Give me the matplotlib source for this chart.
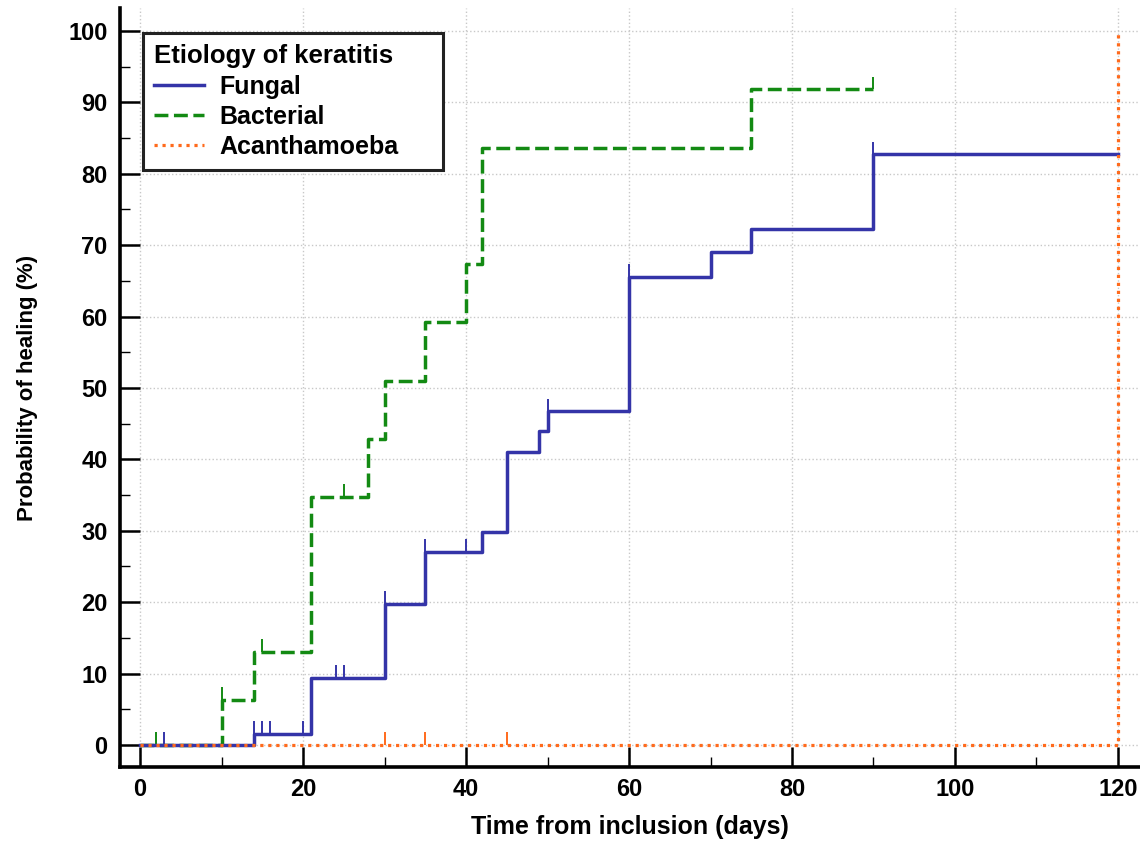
import matplotlib
matplotlib.use("Agg")
import matplotlib.pyplot as plt
import numpy as np

# Kaplan-Meier style healing curves
fungal_t = [0, 14, 21, 30, 35, 42, 45, 49, 50, 60, 70, 75, 90, 120]
fungal_p = [0, 1.6, 9.4, 19.7, 27.0, 29.8, 41.0, 44.0, 46.7, 65.5, 69.0, 72.3, 82.7, 82.7]
fungal_cens = [3, 14, 15, 16, 20, 24, 25, 30, 35, 40, 50, 60, 90]

bact_t = [0, 10, 14, 21, 28, 30, 35, 40, 42, 75, 90]
bact_p = [0, 6.3, 13.0, 34.7, 42.9, 51.0, 59.2, 67.4, 83.6, 91.8, 91.8]
bact_cens = [2, 10, 15, 25, 90]

acanth_t = [0, 120]
acanth_p = [0, 100]
acanth_cens = [30, 35, 45]

x_ticks = [0, 20, 40, 60, 80, 100, 120]
y_ticks = [0, 10, 20, 30, 40, 50, 60, 70, 80, 90, 100]

BLUE = "#3434a8"
GREEN = "#138a13"
ORANGE = "#ff6a1c"
CENS_LEN = 1.8

plt.rcParams["font.family"] = ["Liberation Sans", "DejaVu Sans"]
plt.rcParams["font.weight"] = "bold"


def level_at(t, times, vals):
    idx = np.searchsorted(times, t, side="right") - 1
    return vals[idx]


def main() -> None:
    fig = plt.figure(figsize=(11.4, 8.41), dpi=100)
    ax = fig.add_axes([0.1053, 0.088, 0.8947, 0.9025])

    series = [
        (fungal_t, fungal_p, fungal_cens, BLUE, "-", "Fungal", 3),
        (bact_t, bact_p, bact_cens, GREEN, (0, (4, 1.6)), "Bacterial", 2),
        (acanth_t, acanth_p, acanth_cens, ORANGE, (0, (1, 1.5)), "Acanthamoeba", 4),
    ]
    for t, p, cens, col, ls, lab, z in series:
        lw = 2.5 if lab != "Acanthamoeba" else 2.3
        ax.step(t, p, where="post", color=col, linestyle=ls, lw=lw, label=lab, zorder=z)
        lv = [level_at(c, t, p) for c in cens]
        ax.vlines(cens, lv, np.array(lv) + CENS_LEN, color=col, lw=1.4, zorder=z)

    ax.set_xlim(-2.45, 122.7)
    ax.set_ylim(-3.08, 103.2)
    ax.set_xticks(x_ticks)
    ax.set_xticks(np.arange(0, 121, 10), minor=True)
    ax.set_yticks(y_ticks)
    ax.set_yticks(np.arange(0, 101, 5), minor=True)
    ax.tick_params(which="major", direction="in", length=14.5, width=1.8, labelsize=17, pad=8)
    ax.tick_params(which="minor", direction="in", length=7, width=1.0)
    ax.tick_params(axis="y", which="major", pad=9)
    for lbl in ax.get_xticklabels() + ax.get_yticklabels():
        lbl.set_fontweight("bold")

    for s in ("top", "right"):
        ax.spines[s].set_visible(False)
    for s in ("left", "bottom"):
        ax.spines[s].set_linewidth(2.6)

    ax.grid(True, which="major", color="#c8c8c8", linestyle=":", lw=1.0)
    ax.set_axisbelow(True)

    ax.set_xlabel("Time from inclusion (days)", fontsize=18, fontweight="bold", labelpad=10)
    ax.set_ylabel("Probability of healing (%)", fontsize=16, fontweight="bold", labelpad=22)

    leg = ax.legend(
        title="Etiology of keratitis",
        loc="upper left",
        bbox_to_anchor=(0.0225, 0.5, 0.294, 0.467),
        mode="expand",
        fontsize=18,
        title_fontproperties={"weight": "bold", "size": 18.5},
        alignment="left",
        fancybox=False,
        framealpha=1,
        edgecolor="#222222",
        handlelength=2.0,
        handletextpad=0.6,
        labelspacing=0.25,
        borderpad=0.45,
        borderaxespad=0,
    )
    leg.get_frame().set_linewidth(2.2)
    for txt in leg.get_texts():
        txt.set_fontweight("bold")

    fig.savefig("out.png", dpi=100)


if __name__ == "__main__":
    main()
